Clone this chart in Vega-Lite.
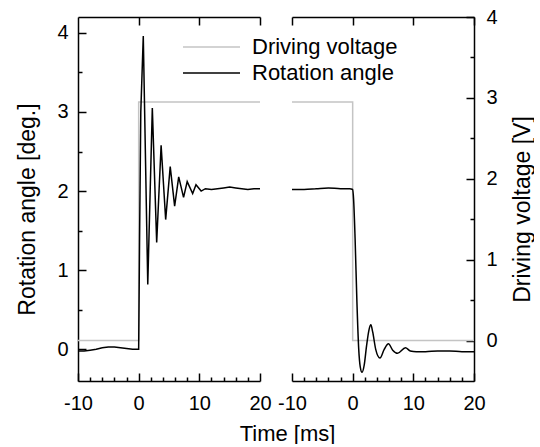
{
  "$schema": "https://vega.github.io/schema/vega-lite/v6.json",
  "padding": {"left": 16, "top": 7, "right": 0, "bottom": 0},
  "bounds": "flush",
  "spacing": 32,
  "config": {
    "font": "Liberation Sans",
    "view": {"stroke": null},
    "axis": {
      "grid": false,
      "domainColor": "black",
      "tickColor": "black",
      "domainWidth": 1.5,
      "tickWidth": 1.5,
      "labelColor": "black",
      "titleColor": "black",
      "labelFontSize": 20,
      "titleFontSize": 23,
      "titleFontWeight": "normal",
      "labelFont": "Liberation Sans",
      "titleFont": "Liberation Sans",
      "labelFlush": false,
      "labelExpr": "toString(datum.value)"
    },
    "legend": {
      "labelFont": "Liberation Sans",
      "labelFontSize": 22,
      "labelColor": "black"
    }
  },
  "datasets": {
    "curves": [
      {"panel": "L", "series": "Rotation angle", "i": 1, "t": -10, "v": -0.02},
      {"panel": "L", "series": "Rotation angle", "i": 2, "t": -9, "v": -0.02},
      {"panel": "L", "series": "Rotation angle", "i": 3, "t": -8, "v": -0.01},
      {"panel": "L", "series": "Rotation angle", "i": 4, "t": -7, "v": 0.0},
      {"panel": "L", "series": "Rotation angle", "i": 5, "t": -6, "v": 0.02},
      {"panel": "L", "series": "Rotation angle", "i": 6, "t": -5, "v": 0.03},
      {"panel": "L", "series": "Rotation angle", "i": 7, "t": -4, "v": 0.03},
      {"panel": "L", "series": "Rotation angle", "i": 8, "t": -3, "v": 0.02},
      {"panel": "L", "series": "Rotation angle", "i": 9, "t": -2, "v": 0.01},
      {"panel": "L", "series": "Rotation angle", "i": 10, "t": -1, "v": 0.0},
      {"panel": "L", "series": "Rotation angle", "i": 11, "t": 0, "v": 0.0},
      {"panel": "L", "series": "Rotation angle", "i": 12, "t": 0.15, "v": 1.4},
      {"panel": "L", "series": "Rotation angle", "i": 13, "t": 0.35, "v": 3.0},
      {"panel": "L", "series": "Rotation angle", "i": 14, "t": 0.76, "v": 3.96},
      {"panel": "L", "series": "Rotation angle", "i": 15, "t": 1.5, "v": 0.82},
      {"panel": "L", "series": "Rotation angle", "i": 16, "t": 2.25, "v": 3.05},
      {"panel": "L", "series": "Rotation angle", "i": 17, "t": 2.97, "v": 1.35},
      {"panel": "L", "series": "Rotation angle", "i": 18, "t": 3.7, "v": 2.58},
      {"panel": "L", "series": "Rotation angle", "i": 19, "t": 4.45, "v": 1.64},
      {"panel": "L", "series": "Rotation angle", "i": 20, "t": 5.2, "v": 2.31},
      {"panel": "L", "series": "Rotation angle", "i": 21, "t": 5.93, "v": 1.81},
      {"panel": "L", "series": "Rotation angle", "i": 22, "t": 6.6, "v": 2.18},
      {"panel": "L", "series": "Rotation angle", "i": 23, "t": 7.4, "v": 1.92},
      {"panel": "L", "series": "Rotation angle", "i": 24, "t": 8.0, "v": 2.12},
      {"panel": "L", "series": "Rotation angle", "i": 25, "t": 8.9, "v": 1.97},
      {"panel": "L", "series": "Rotation angle", "i": 26, "t": 9.45, "v": 2.08},
      {"panel": "L", "series": "Rotation angle", "i": 27, "t": 10.3, "v": 2.0},
      {"panel": "L", "series": "Rotation angle", "i": 28, "t": 11, "v": 2.03},
      {"panel": "L", "series": "Rotation angle", "i": 29, "t": 12, "v": 2.02},
      {"panel": "L", "series": "Rotation angle", "i": 30, "t": 13, "v": 2.03},
      {"panel": "L", "series": "Rotation angle", "i": 31, "t": 14, "v": 2.04},
      {"panel": "L", "series": "Rotation angle", "i": 32, "t": 15, "v": 2.05},
      {"panel": "L", "series": "Rotation angle", "i": 33, "t": 16, "v": 2.04},
      {"panel": "L", "series": "Rotation angle", "i": 34, "t": 17, "v": 2.03},
      {"panel": "L", "series": "Rotation angle", "i": 35, "t": 18, "v": 2.02},
      {"panel": "L", "series": "Rotation angle", "i": 36, "t": 19, "v": 2.03},
      {"panel": "L", "series": "Rotation angle", "i": 37, "t": 20, "v": 2.03},
      {"panel": "L", "series": "Driving voltage", "i": 1, "t": -10, "v": 0.0},
      {"panel": "L", "series": "Driving voltage", "i": 2, "t": 0, "v": 0.0},
      {"panel": "L", "series": "Driving voltage", "i": 3, "t": 0, "v": 2.95},
      {"panel": "L", "series": "Driving voltage", "i": 4, "t": 20, "v": 2.95},
      {"panel": "R", "series": "Rotation angle", "i": 1, "t": -10, "v": 2.02},
      {"panel": "R", "series": "Rotation angle", "i": 2, "t": -8, "v": 2.02},
      {"panel": "R", "series": "Rotation angle", "i": 3, "t": -6, "v": 2.03},
      {"panel": "R", "series": "Rotation angle", "i": 4, "t": -4, "v": 2.04},
      {"panel": "R", "series": "Rotation angle", "i": 5, "t": -2, "v": 2.03},
      {"panel": "R", "series": "Rotation angle", "i": 6, "t": -0.5, "v": 2.03},
      {"panel": "R", "series": "Rotation angle", "i": 7, "t": 0, "v": 2.02},
      {"panel": "R", "series": "Rotation angle", "i": 8, "t": 0.15, "v": 1.9},
      {"panel": "R", "series": "Rotation angle", "i": 9, "t": 0.4, "v": 1.4},
      {"panel": "R", "series": "Rotation angle", "i": 10, "t": 0.7, "v": 0.6},
      {"panel": "R", "series": "Rotation angle", "i": 11, "t": 1.0, "v": 0.0},
      {"panel": "R", "series": "Rotation angle", "i": 12, "t": 1.25, "v": -0.22},
      {"panel": "R", "series": "Rotation angle", "i": 13, "t": 1.55, "v": -0.29},
      {"panel": "R", "series": "Rotation angle", "i": 14, "t": 1.9, "v": -0.2},
      {"panel": "R", "series": "Rotation angle", "i": 15, "t": 2.3, "v": 0.05},
      {"panel": "R", "series": "Rotation angle", "i": 16, "t": 2.7, "v": 0.25},
      {"panel": "R", "series": "Rotation angle", "i": 17, "t": 3.0, "v": 0.31},
      {"panel": "R", "series": "Rotation angle", "i": 18, "t": 3.3, "v": 0.22},
      {"panel": "R", "series": "Rotation angle", "i": 19, "t": 3.8, "v": 0.0},
      {"panel": "R", "series": "Rotation angle", "i": 20, "t": 4.5, "v": -0.11},
      {"panel": "R", "series": "Rotation angle", "i": 21, "t": 5.2, "v": 0.0},
      {"panel": "R", "series": "Rotation angle", "i": 22, "t": 5.9, "v": 0.07},
      {"panel": "R", "series": "Rotation angle", "i": 23, "t": 6.6, "v": -0.01},
      {"panel": "R", "series": "Rotation angle", "i": 24, "t": 7.4, "v": -0.05},
      {"panel": "R", "series": "Rotation angle", "i": 25, "t": 8.7, "v": 0.02},
      {"panel": "R", "series": "Rotation angle", "i": 26, "t": 9.5, "v": -0.02},
      {"panel": "R", "series": "Rotation angle", "i": 27, "t": 10.5, "v": -0.03},
      {"panel": "R", "series": "Rotation angle", "i": 28, "t": 12, "v": -0.03},
      {"panel": "R", "series": "Rotation angle", "i": 29, "t": 14, "v": -0.02},
      {"panel": "R", "series": "Rotation angle", "i": 30, "t": 16, "v": -0.02},
      {"panel": "R", "series": "Rotation angle", "i": 31, "t": 18, "v": -0.03},
      {"panel": "R", "series": "Rotation angle", "i": 32, "t": 20, "v": -0.03},
      {"panel": "R", "series": "Driving voltage", "i": 1, "t": -10, "v": 2.95},
      {"panel": "R", "series": "Driving voltage", "i": 2, "t": 0, "v": 2.95},
      {"panel": "R", "series": "Driving voltage", "i": 3, "t": 0, "v": 0.0},
      {"panel": "R", "series": "Driving voltage", "i": 4, "t": 20, "v": 0.0}
    ]
  },
  "hconcat": [
    {
      "width": 182,
      "height": 364,
      "data": {"name": "curves"},
      "transform": [{"filter": "datum.panel == 'L'"}],
      "layer": [
        {
          "transform": [{"filter": "datum.series == 'Driving voltage'"}],
          "mark": {"type": "line", "strokeWidth": 1.5},
          "encoding": {
            "x": {"field": "t", "type": "quantitative", "scale": {"domain": [-10, 20], "nice": false},
              "axis": {"orient": "top", "values": [0, 10, 20], "tickSize": -8, "labels": false, "title": null}},
            "y": {"field": "v", "type": "quantitative", "scale": {"domain": [-0.5, 4], "nice": false, "zero": false}, "axis": null},
            "order": {"field": "i", "type": "quantitative"},
            "color": {"datum": "Driving voltage", "type": "nominal",
              "scale": {"domain": ["Driving voltage", "Rotation angle"], "range": ["#c4c4c4", "#000000"]},
              "legend": {"orient": "none", "legendX": 104, "legendY": 19, "title": null, "symbolType": "stroke", "symbolSize": 3249, "symbolStrokeWidth": 1.3, "labelOffset": 11, "clipHeight": 22, "rowPadding": 4}}
          }
        },
        {
          "transform": [{"filter": "datum.series == 'Rotation angle'"}],
          "mark": {"type": "line", "strokeWidth": 1.5},
          "encoding": {
            "x": {"field": "t", "type": "quantitative", "scale": {"domain": [-10, 20], "nice": false},
              "axis": {"orient": "bottom", "values": [-10, 0, 10, 20], "tickSize": -8, "labelPadding": 20, "title": "Time [ms]", "titleFontSize": 22, "titleX": 209, "titleY": 59, "titleBaseline": "alphabetic", "titleAlign": "center"}},
            "y": {"field": "v", "type": "quantitative", "scale": {"domain": [-0.4, 4.2], "nice": false, "zero": false},
              "axis": {"orient": "left", "values": [0, 1, 2, 3, 4], "tickSize": -8, "labelPadding": 18, "title": "Rotation angle [deg.]", "titleAngle": 270, "titleX": -44, "titleY": 192, "titleBaseline": "alphabetic", "titleAlign": "center"}},
            "order": {"field": "i", "type": "quantitative"},
            "color": {"datum": "Rotation angle", "type": "nominal"}
          }
        },
        {
          "transform": [{"filter": "datum.series == 'Rotation angle'"}],
          "mark": {"type": "line", "opacity": 0},
          "encoding": {
            "x": {"field": "t", "type": "quantitative", "scale": {"domain": [-10, 20], "nice": false},
              "axis": {"orient": "bottom", "values": [-8, -6, -4, -2, 2, 4, 6, 8, 12, 14, 16, 18], "tickSize": -4, "labels": false, "domain": false, "title": null}},
            "y": {"field": "v", "type": "quantitative", "scale": {"domain": [-0.4, 4.2], "nice": false, "zero": false},
              "axis": {"orient": "left", "values": [0.5, 1.5, 2.5, 3.5], "tickSize": -4, "labels": false, "domain": false, "title": null}},
            "order": {"field": "i", "type": "quantitative"}
          }
        }
      ],
      "resolve": {"scale": {"y": "independent"}, "axis": {"x": "independent", "y": "independent"}}
    },
    {
      "width": 182,
      "height": 364,
      "data": {"name": "curves"},
      "transform": [{"filter": "datum.panel == 'R'"}],
      "layer": [
        {
          "transform": [{"filter": "datum.series == 'Driving voltage'"}],
          "mark": {"type": "line", "strokeWidth": 1.5},
          "encoding": {
            "x": {"field": "t", "type": "quantitative", "scale": {"domain": [-10, 20], "nice": false},
              "axis": {"orient": "top", "values": [-10, 0, 10, 20], "tickSize": -8, "labels": false, "title": null}},
            "y": {"field": "v", "type": "quantitative", "scale": {"domain": [-0.5, 4], "nice": false, "zero": false},
              "axis": {"orient": "right", "values": [0, 1, 2, 3, 4], "tickSize": -8, "labelPadding": 20, "title": "Driving voltage [V]", "titleAngle": 270, "titleX": 55, "titleY": 192, "titleBaseline": "alphabetic", "titleAlign": "center"}},
            "order": {"field": "i", "type": "quantitative"},
            "color": {"datum": "Driving voltage", "type": "nominal"}
          }
        },
        {
          "transform": [{"filter": "datum.series == 'Rotation angle'"}],
          "mark": {"type": "line", "strokeWidth": 1.5, "interpolate": "monotone"},
          "encoding": {
            "x": {"field": "t", "type": "quantitative", "scale": {"domain": [-10, 20], "nice": false},
              "axis": {"orient": "bottom", "values": [-10, 0, 10, 20], "tickSize": -8, "labelPadding": 20, "title": null}},
            "y": {"field": "v", "type": "quantitative", "scale": {"domain": [-0.4, 4.2], "nice": false, "zero": false}, "axis": null},
            "order": {"field": "i", "type": "quantitative"},
            "color": {"datum": "Rotation angle", "type": "nominal"}
          }
        },
        {
          "transform": [{"filter": "datum.series == 'Driving voltage'"}],
          "mark": {"type": "line", "opacity": 0},
          "encoding": {
            "x": {"field": "t", "type": "quantitative", "scale": {"domain": [-10, 20], "nice": false},
              "axis": {"orient": "bottom", "values": [-8, -6, -4, -2, 2, 4, 6, 8, 12, 14, 16, 18], "tickSize": -4, "labels": false, "domain": false, "title": null}},
            "y": {"field": "v", "type": "quantitative", "scale": {"domain": [-0.5, 4], "nice": false, "zero": false},
              "axis": {"orient": "right", "values": [0.5, 1.5, 2.5, 3.5], "tickSize": -4, "labels": false, "domain": false, "title": null}},
            "order": {"field": "i", "type": "quantitative"}
          }
        }
      ],
      "resolve": {"scale": {"y": "independent"}, "axis": {"x": "independent", "y": "independent"}}
    }
  ]
}
